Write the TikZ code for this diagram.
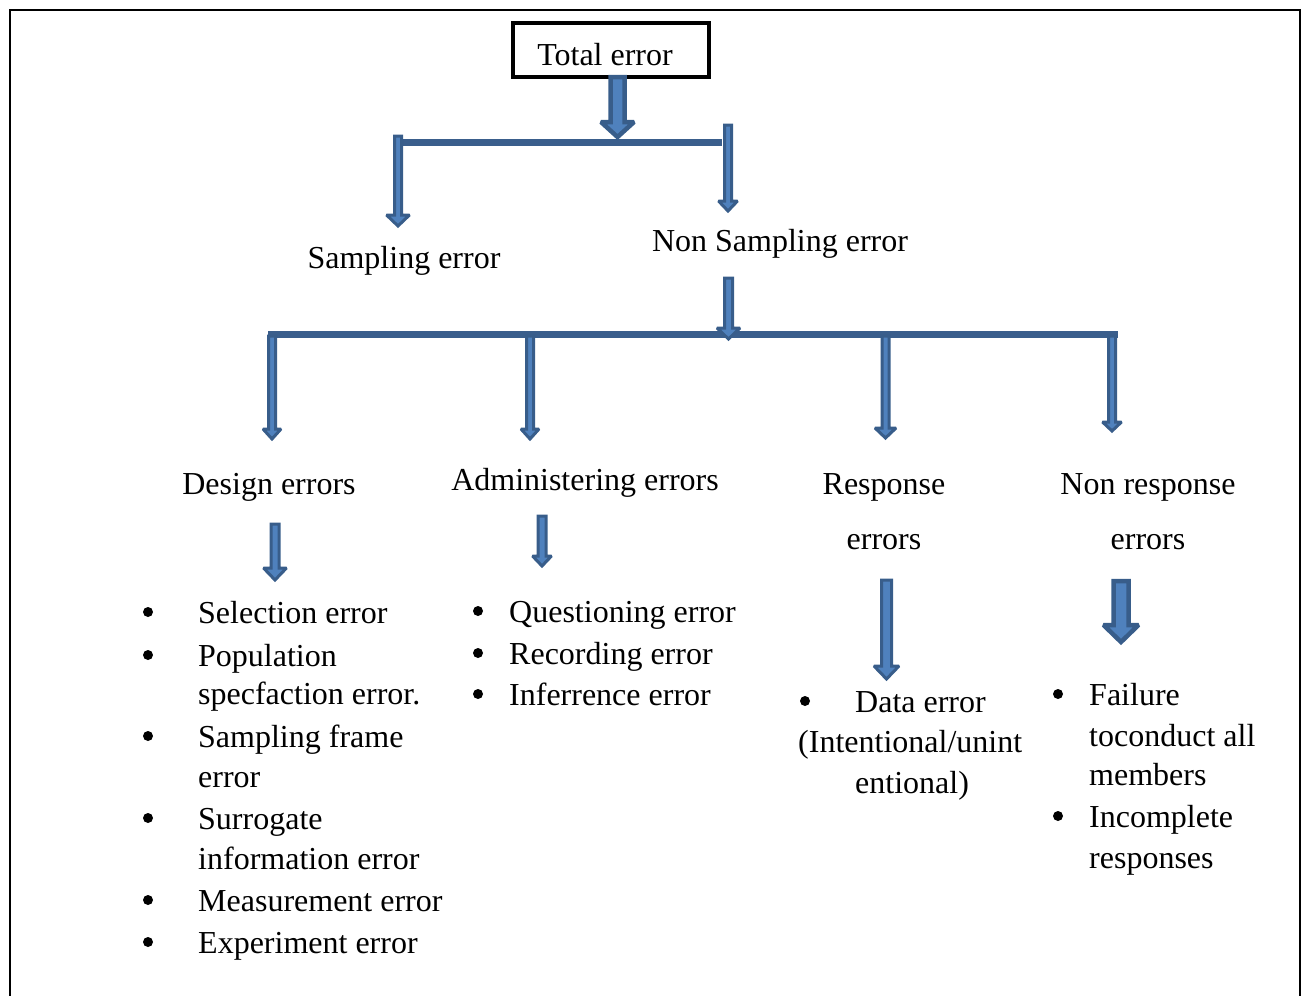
\documentclass[tikz,border=0pt]{standalone}
\usepackage{fontspec}
\setmainfont{Liberation Serif}
\usetikzlibrary{calc}
\definecolor{arrowedge}{HTML}{385D8A}
\definecolor{arrowbody}{HTML}{4F81BD}
\definecolor{barblue}{HTML}{3A5E8C}

\tikzset{
  lbl/.style={inner sep=0pt, anchor=base, font=\fontsize{32}{38}\selectfont},
  lblw/.style={lbl, anchor=base west},
  bul/.style={circle, fill=black, inner sep=0pt, minimum size=10pt},
  blk/.style={fill=arrowbody, draw=arrowedge, line width=3pt, line join=miter, miter limit=2},
  blkwide/.style={blk, line width=4.5pt},
  barline/.style={fill=barblue},
}
% block arrow pointing down: [style] start, tip, shaft half-width, head half-width, head length
\newcommand{\blockarrow}[6][blk]{%
  \path[#1] ($#2+(-#4,0)$) -- ($#3+(-#4,-#6)$) -- ($#3+(-#5,-#6)$) -- #3
    -- ($#3+(#5,-#6)$) -- ($#3+(#4,-#6)$) -- ($#2+(#4,0)$) -- cycle;}

\begin{document}
\begin{tikzpicture}[x=1pt,y=-1pt]
\useasboundingbox (0,0) rectangle (1304,996);
% outer frame (open at the bottom)
\draw[line width=2pt] (10,996) -- (10,9.5) -- (1300,9.5) -- (1300,996);

% ---- top level
\node[draw, line width=3.5pt, minimum width=196pt, minimum height=54pt, inner sep=0pt] (totalbox) at (611,50) {};
\node[lbl] (total) at (605,65) {Total error};
\node[lbl] (samp) at (404,268) {Sampling error};
\node[lbl] (nonsamp) at (780,251) {Non Sampling error};

% ---- second level
\node[lbl] (design) at (269,494) {Design errors};
\node[lbl] (admin) at (585,490) {Administering errors};
\node[lbl] (resp1) at (884,494) {Response};
\node[lbl] (resp2) at (884,549) {errors};
\node[lbl] (nresp1) at (1148,494) {Non response};
\node[lbl] (nresp2) at (1148,549) {errors};

% ---- design error items
\foreach \n/\y in {b1/623,b2/666,b3/747,b4/829,b5/911,b6/953}
  \node[bul] (d\n) at (148,\y-11) {};
\node[lblw] (d1) at (198,623) {Selection error};
\node[lblw] (d2a) at (198,666) {Population};
\node[lblw] (d2b) at (198,704) {specfaction error.};
\node[lblw] (d3a) at (198,747) {Sampling frame};
\node[lblw] (d3b) at (198,787) {error};
\node[lblw] (d4a) at (198,829) {Surrogate};
\node[lblw] (d4b) at (198,869) {information error};
\node[lblw] (d5) at (198,911) {Measurement error};
\node[lblw] (d6) at (198,953) {Experiment error};

% ---- administering error items
\foreach \n/\y in {b1/622,b2/664,b3/705}
  \node[bul] (a\n) at (478,\y-11) {};
\node[lblw] (a1) at (509,622) {Questioning error};
\node[lblw] (a2) at (509,664) {Recording error};
\node[lblw] (a3) at (509,705) {Inferrence error};

% ---- response error items
\node[bul] (rb1) at (805,701) {};
\node[lblw] (r1a) at (855,712) {Data error};
\node[lblw] (r1b) at (798,752) {(Intentional/unint};
\node[lblw] (r1c) at (855,793) {entional)};

% ---- non response error items
\foreach \n/\y in {b1/705,b2/827}
  \node[bul] (n\n) at (1058,\y-11) {};
\node[lblw] (n1a) at (1089,705) {Failure};
\node[lblw] (n1b) at (1089,746) {toconduct all};
\node[lblw] (n1c) at (1089,785) {members};
\node[lblw] (n2a) at (1089,827) {Incomplete};
\node[lblw] (n2b) at (1089,868) {responses};

% ---- connector points
\coordinate (tTop) at (617.5,77);  \coordinate (tTip) at (617.5,137);
\coordinate (bar1L) at (398,138.5);
\coordinate (bar1R) at (722,145.5);
\coordinate (sTop) at (398,136);   \coordinate (sTip) at (398,226);
\coordinate (nTop) at (728,125);   \coordinate (nTip) at (728,211);
\coordinate (nsTop) at (728.5,278); \coordinate (nsTip) at (728.5,339);
\coordinate (bar2L) at (268,331);
\coordinate (bar2R) at (1118,338);
\coordinate (c1Top) at (272,336);  \coordinate (c1Tip) at (272,439);
\coordinate (c2Top) at (530,336);  \coordinate (c2Tip) at (530,439);
\coordinate (c3Top) at (885.5,336); \coordinate (c3Tip) at (885.5,438);
\coordinate (c4Top) at (1112,336); \coordinate (c4Tip) at (1112,431);
\coordinate (dTop) at (275,524);   \coordinate (dTip) at (275,580);
\coordinate (aTop) at (542,516);   \coordinate (aTip) at (542,566);
\coordinate (rTop) at (886.5,580); \coordinate (rTip) at (886.5,679);
\coordinate (xTop) at (1121,581);  \coordinate (xTip) at (1121,642);

% ---- bars
\fill[barline] (bar1L) rectangle (bar1R);
\fill[barline] (bar2L) rectangle (bar2R);

% ---- block arrows
\blockarrow[blkwide]{(tTop)}{(tTip)}{7}{16.5}{15}
\blockarrow{(sTop)}{(sTip)}{3.5}{11.5}{11}
\blockarrow{(nTop)}{(nTip)}{3.5}{9.5}{10}
\blockarrow{(nsTop)}{(nsTip)}{4}{11.5}{11}
\blockarrow{(c1Top)}{(c1Tip)}{3.5}{9}{10}
\blockarrow{(c2Top)}{(c2Tip)}{3.5}{9}{10}
\blockarrow{(c3Top)}{(c3Tip)}{3.5}{10.5}{10}
\blockarrow{(c4Top)}{(c4Tip)}{3.5}{9.5}{9}
\blockarrow{(dTop)}{(dTip)}{4}{11.5}{12}
\blockarrow{(aTop)}{(aTip)}{4}{9.5}{10}
\blockarrow{(rTop)}{(rTip)}{5}{12.5}{13}
\blockarrow[blkwide]{(xTop)}{(xTip)}{7.5}{17.5}{17}
\end{tikzpicture}
\end{document}
